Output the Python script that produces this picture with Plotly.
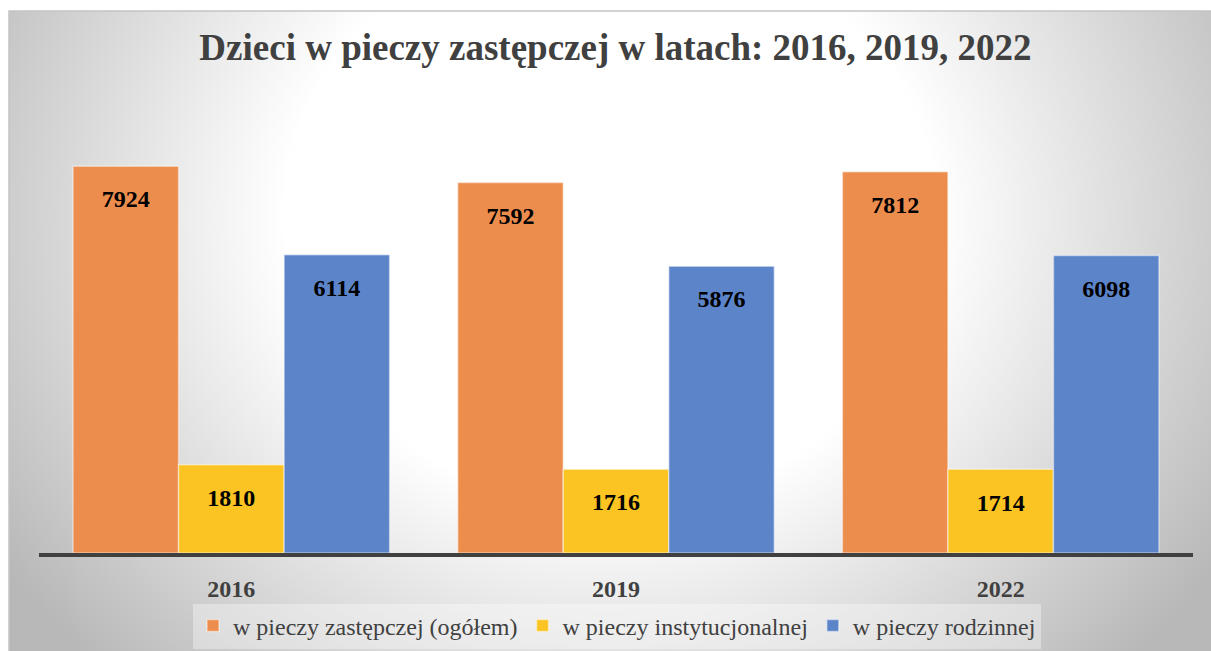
import base64
import plotly.graph_objects as go

# ---- data ----
years = ["2016", "2019", "2022"]
series_names = ["w pieczy zastępczej (ogółem)", "w pieczy instytucjonalnej", "w pieczy rodzinnej"]
ogolem = [7924, 7592, 7812]
instytucjonalna = [1810, 1716, 1714]
rodzinna = [6114, 5876, 6098]
title_text = "Dzieci w pieczy zastępczej w latach: 2016, 2019, 2022"

# ---- style ----
W, H = 1211, 651
ML, MR, MT, MB = 39, 18, 100, 98
PW, PH = W - ML - MR, H - MT - MB
PX_PER_UNIT = 0.0488
colors = ["#EC8D4D", "#FBC423", "#5C84C9"]
serif = "Liberation Serif"

def px_x(X):
    return (X - ML) / PW

def px_y(Y):
    return (H - MB - Y) / PH

fig = go.Figure()
for name, vals, col in zip(series_names, [ogolem, instytucjonalna, rodzinna], colors):
    fig.add_trace(go.Bar(
        name=name, x=years, y=vals,
        marker=dict(color=col, line=dict(color="rgba(255,255,255,0.45)", width=1.5)),
        texttemplate="<span style='font-size:8px'>&nbsp;</span><br>%{y}",
        textposition="inside", insidetextanchor="end", textangle=0,
        textfont=dict(family=serif, size=24, color="black", weight="bold"),
        hoverinfo="x+y+name",
    ))

# radial gradient background (chart area frame)
svg = (
    '<svg xmlns="http://www.w3.org/2000/svg" width="1202" height="640" viewBox="0 0 1 1" preserveAspectRatio="none">'
    '<defs><radialGradient id="g" cx="0.5" cy="0.32" r="1" '
    'gradientTransform="translate(0.5,0.32) scale(0.6,1) translate(-0.5,-0.32)">'
    '<stop offset="0" stop-color="#ffffff"/>'
    '<stop offset="0.45" stop-color="#ffffff"/>'
    '<stop offset="1" stop-color="#b8b8b8"/>'
    '</radialGradient></defs>'
    '<rect x="0" y="0" width="1" height="1" fill="url(#g)"/></svg>'
)
uri = "data:image/svg+xml;base64," + base64.b64encode(svg.encode()).decode()
fx0, fx1 = px_x(9), px_x(1212)
fy1, fy0 = px_y(11), px_y(652)
fig.add_layout_image(dict(
    source=uri, xref="paper", yref="paper", x=fx0, y=fy1,
    sizex=fx1 - fx0, sizey=fy1 - fy0, xanchor="left", yanchor="top",
    sizing="stretch", layer="below",
))
fig.add_shape(type="rect", xref="paper", yref="paper", x0=fx0, x1=fx1, y0=fy0, y1=fy1,
              line=dict(color="#c4c4c4", width=1.5), fillcolor="rgba(0,0,0,0)", layer="below")

fig.update_layout(
    width=W, height=H,
    margin=dict(l=ML, r=MR, t=MT, b=MB, pad=0, autoexpand=False),
    paper_bgcolor="white", plot_bgcolor="rgba(0,0,0,0)",
    barmode="group", bargap=0.177, bargroupgap=0,
    title=dict(text=title_text, x=615.5 / W, xanchor="center", y=1 - 47 / H, yanchor="middle",
               xref="container", yref="container",
               font=dict(family=serif, size=37, color="#404040", weight="bold")),
    xaxis=dict(showline=True, linecolor="#404040", linewidth=4, ticks="", showgrid=False,
               zeroline=False, ticklabelstandoff=11, automargin=False,
               tickfont=dict(family=serif, size=24, color="#404040", weight="bold")),
    yaxis=dict(visible=False, range=[0, PH / PX_PER_UNIT], showgrid=False, zeroline=False,
               automargin=False),
    legend=dict(orientation="h", xref="container", yref="container",
                x=617 / W, xanchor="center", y=1 - 626 / H, yanchor="middle",
                bgcolor="rgba(255,255,255,0.35)",
                font=dict(family=serif, size=24, color="#404040")),
    showlegend=True,
)

fig.write_html("out.html", config={"displayModeBar": False},
               post_script="document.body.style.margin='0';document.body.style.overflow='hidden';")
